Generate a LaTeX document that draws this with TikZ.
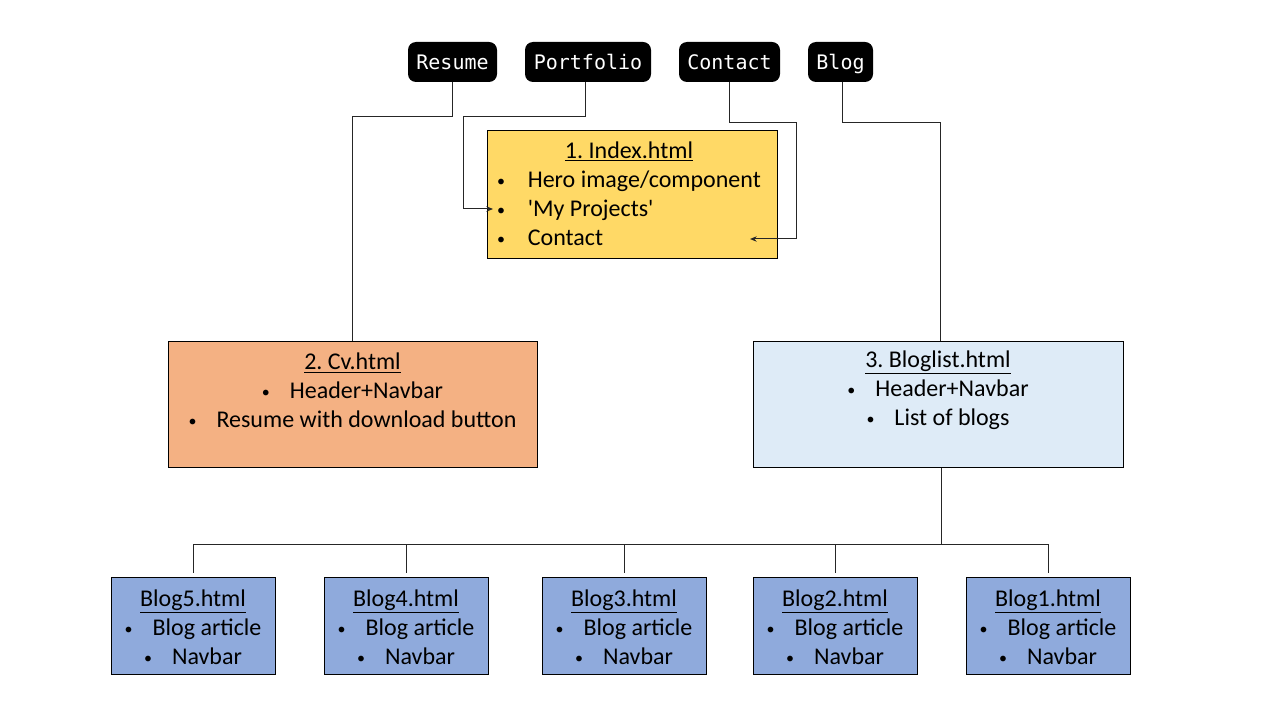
\documentclass[tikz,border=0pt]{standalone}
\usepackage{fontspec}
\setmainfont{Carlito}
\newfontfamily\navfont{DejaVu Sans Mono}
\usetikzlibrary{arrows.meta}
\definecolor{idxyellow}{HTML}{FFD966}
\definecolor{cvorange}{HTML}{F4B183}
\definecolor{bllight}{HTML}{DEEBF7}
\definecolor{blogblue}{HTML}{8FAADC}
\tikzset{
  navbtn/.style={fill=black, text=white, rounded corners=6pt, inner sep=0pt,
    minimum height=30pt, text height=12pt, text depth=0.9pt,
    font=\navfont\fontsize{15}{18}\selectfont},
  pagebox/.style={draw=black, line width=0.75pt, inner sep=0pt},
  boxtext/.style={inner sep=0pt, align=center, font=\frenchspacing\fontsize{18}{21.75}\selectfont},
  conn/.style={draw=black!85, line width=0.75pt},
  connarrow/.style={conn, -{Stealth[length=5pt,width=4pt]}},
}
\newcommand{\smbul}{{\fontsize{12}{12}\selectfont\raisebox{0.6pt}{\textbullet}}}
\newcommand{\bul}{\smbul\hspace{15pt}}
\begin{document}
\begin{tikzpicture}[x=0.75pt, y=-0.75pt]
\useasboundingbox (0,0) rectangle (1280,720);
% nav buttons
\node[navbtn, minimum width=66.75pt] (resume) at (452.5,62) {Resume};
\node[navbtn, minimum width=94.5pt] (portfolio) at (588,62) {Portfolio};
\node[navbtn, minimum width=75.75pt] (contact) at (729.5,62) {Contact};
\node[navbtn, minimum width=48.75pt] (blog) at (840.5,62) {Blog};
% index
\node[pagebox, fill=idxyellow, minimum width=217.5pt, minimum height=95.25pt] (index) at (632,194.5) {};
\node[boxtext] (indextext) at (629,196) {\renewcommand\arraystretch{1}%
\begin{tabular}{@{}l@{\hspace{17pt}}l@{}}
\multicolumn{2}{c}{\underline{1. Index.html}}\\
\smbul & Hero image/component\\
\smbul & \textquotesingle My Projects\textquotesingle\\
\smbul & Contact
\end{tabular}};
% cv
\node[pagebox, fill=cvorange, minimum width=276.75pt, minimum height=94.5pt] (cv) at (352.5,404) {};
\node[boxtext] (cvtext) at (352.5,390.5) {\underline{2. Cv.html}\\ \bul Header+Navbar\\ \bul Resume with download button};
% bloglist
\node[pagebox, fill=bllight, minimum width=277.5pt, minimum height=94.5pt] (bloglist) at (938,404) {};
\node[boxtext] (bloglisttext) at (938,390.5) {\underline{3. Bloglist.html}\\ \bul Header+Navbar\\ \bul List of blogs};
% blog boxes
\foreach \nm/\x/\t in {b5/193/Blog5, b4/406/Blog4, b3/624/Blog3, b2/835/Blog2, b1/1048/Blog1}{
  \node[pagebox, fill=blogblue, minimum width=123pt, minimum height=72.75pt] (\nm) at (\x,625.5) {};
  \node[boxtext] (\nm text) at (\x,627) {\underline{\t.html}\\ \bul Blog article\\ \bul Navbar};
}
% connectors
\coordinate (pbul) at (493,209);
\coordinate (cbul) at (750,239);
\coordinate (bus) at (941,544);
\draw[conn] (resume.south) -- ++(0,34) -| (cv.north);
\draw[connarrow] ([xshift=-2.25pt]portfolio.south) -- ++(0,34) -- ++(-122,0) |- (pbul);
\draw[connarrow] (contact.south) -- ++(0,40) -- ++(67,0) |- (cbul);
\draw[conn] ([xshift=1.5pt]blog.south) -- ++(0,40) -| ([xshift=1.5pt]bloglist.north);
\draw[conn] ([xshift=2.25pt]bloglist.south) -- ([xshift=2.25pt]bloglist.south |- bus);
\draw[conn] (b5.north |- bus) -- (b1.north |- bus);
\foreach \nm in {b5,b4,b3,b2,b1}{
  \draw[conn, shorten >=3pt] (\nm.north |- bus) -- (\nm.north);
}
\end{tikzpicture}
\end{document}
